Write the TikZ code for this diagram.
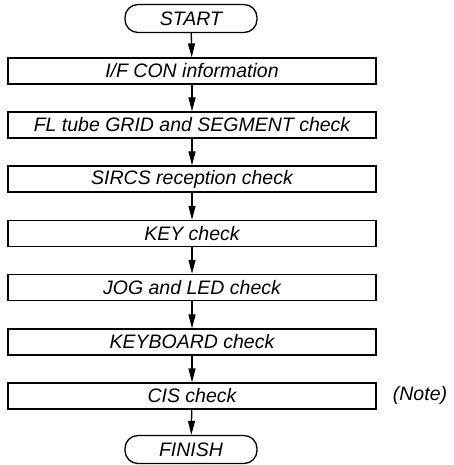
\documentclass[tikz,border=0pt]{standalone}
\usepackage{fontspec}
\setmainfont{Liberation Sans}
\usetikzlibrary{arrows.meta}
\tikzset{
  check box/.style={draw=black, line width=1.3pt, minimum width=368pt,
    minimum height=26pt, inner sep=0pt},
  terminal/.style={draw=black, line width=1.3pt, minimum width=132pt,
    minimum height=28pt, inner sep=0pt, rounded corners=13pt},
  flow arrow/.style={-{Triangle[length=14pt,width=7pt]},line width=1.3pt},
  flow text/.style={font=\fontsize{19.5}{23}\selectfont\itshape}
}
\newcommand{\checkStep}[3]{%
  \node[check box,flow text] (#1) at (192,#2) {#3};%
}

\begin{document}
\begin{tikzpicture}[x=1pt,y=-1pt]
  \useasboundingbox (0,0) rectangle (454,465);
  \node[terminal,flow text] (start) at (191,18.5) {START};
  \checkStep{ifcon}{71}{I/F CON information}
  \checkStep{fltube}{125}{FL tube GRID and SEGMENT check}
  \checkStep{sircs}{179}{SIRCS reception check}
  \checkStep{key}{233.5}{KEY check}
  \checkStep{jog}{287.5}{JOG and LED check}
  \checkStep{keyboard}{342}{KEYBOARD check}
  \checkStep{cis}{396}{CIS check}
  \node[terminal,flow text] (finish) at (191,449.5) {FINISH};

  \node[flow text] (note) at (420,395) {(Note)};

  \draw[flow arrow] (start) -- (ifcon);
  \draw[flow arrow] (ifcon) -- (fltube);
  \draw[flow arrow] (fltube) -- (sircs);
  \draw[flow arrow] (sircs) -- (key);
  \draw[flow arrow] (key) -- (jog);
  \draw[flow arrow] (jog) -- (keyboard);
  \draw[flow arrow] (keyboard) -- (cis);
  \draw[flow arrow] (cis) -- (finish);
\end{tikzpicture}
\end{document}
